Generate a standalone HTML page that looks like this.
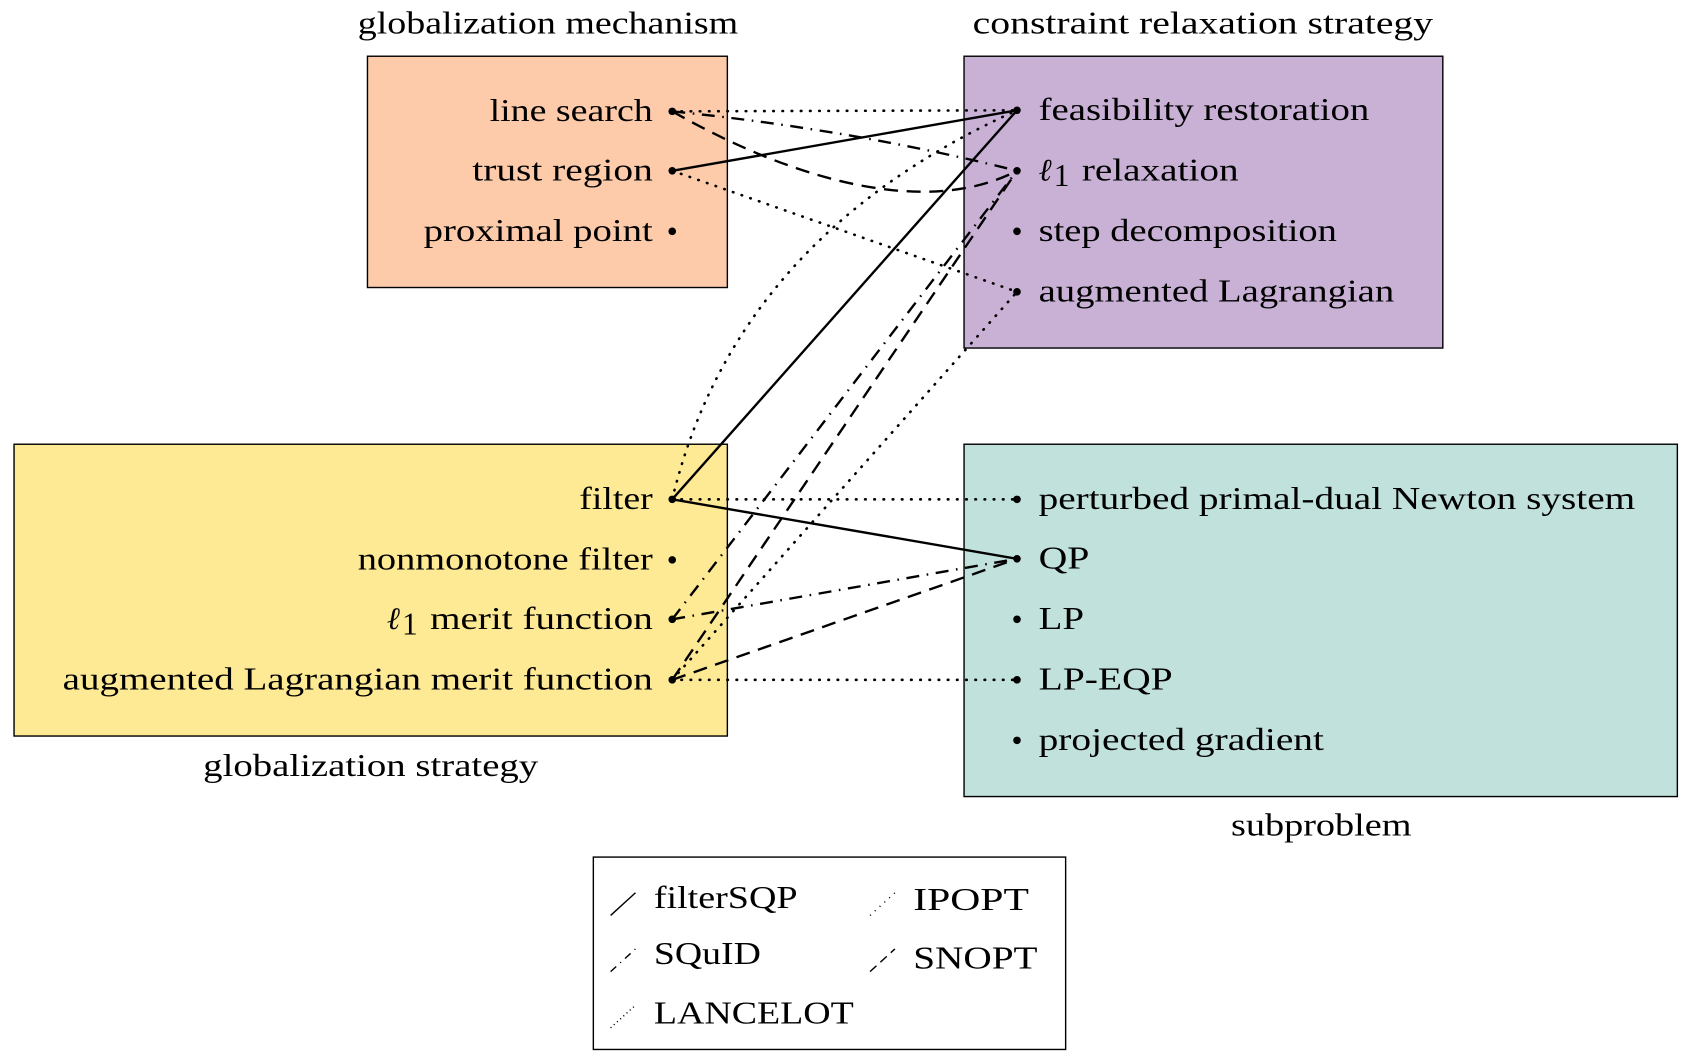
<!DOCTYPE html>
<html><head><meta charset="utf-8"><style>
html,body{margin:0;padding:0;background:#fff;}
svg{display:block;}
text{font-family:"Liberation Serif",serif;font-size:29px;fill:#000;}
</style></head><body>
<svg width="1686" height="1063" viewBox="0 0 1560 983.5" xmlns="http://www.w3.org/2000/svg">
<rect x="340" y="52" width="333" height="214" fill="#fdcbaa" stroke="#000" stroke-width="1.3"/>
<rect x="892" y="52" width="443" height="270" fill="#c9b1d6" stroke="#000" stroke-width="1.3"/>
<rect x="13" y="411" width="660" height="270" fill="#fee994" stroke="#000" stroke-width="1.3"/>
<rect x="892" y="411" width="660" height="326" fill="#c1e1dc" stroke="#000" stroke-width="1.3"/>
<rect x="549" y="793" width="437" height="178" fill="#fff" stroke="#000" stroke-width="1.3"/>

<g lengthAdjust="spacingAndGlyphs">
<text x="331" y="31" textLength="352" lengthAdjust="spacingAndGlyphs">globalization mechanism</text>
<text x="900" y="31" textLength="426" lengthAdjust="spacingAndGlyphs">constraint relaxation strategy</text>
<text x="188" y="718" textLength="310" lengthAdjust="spacingAndGlyphs">globalization strategy</text>
<text x="1139" y="773" textLength="167" lengthAdjust="spacingAndGlyphs">subproblem</text>

<text x="453" y="112" textLength="151" lengthAdjust="spacingAndGlyphs">line search</text>
<text x="437" y="167" textLength="167" lengthAdjust="spacingAndGlyphs">trust region</text>
<text x="392" y="223" textLength="212" lengthAdjust="spacingAndGlyphs">proximal point</text>
<text x="536" y="471" textLength="68" lengthAdjust="spacingAndGlyphs">filter</text>
<text x="331" y="527" textLength="273" lengthAdjust="spacingAndGlyphs">nonmonotone filter</text>
<text x="358" y="582" font-style="italic">ℓ</text><text x="372" y="587" font-size="19">1</text>
<text x="398" y="582" textLength="206" lengthAdjust="spacingAndGlyphs">merit function</text>
<text x="58" y="638" textLength="546" lengthAdjust="spacingAndGlyphs">augmented Lagrangian merit function</text>

<text x="961" y="111" textLength="306" lengthAdjust="spacingAndGlyphs">feasibility restoration</text>
<text x="961" y="167" font-style="italic">ℓ</text><text x="975" y="172" font-size="19">1</text>
<text x="1001" y="167" textLength="145" lengthAdjust="spacingAndGlyphs">relaxation</text>
<text x="961" y="223" textLength="276" lengthAdjust="spacingAndGlyphs">step decomposition</text>
<text x="961" y="279" textLength="329" lengthAdjust="spacingAndGlyphs">augmented Lagrangian</text>
<text x="961" y="471" textLength="552" lengthAdjust="spacingAndGlyphs">perturbed primal-dual Newton system</text>
<text x="961" y="526" textLength="47" lengthAdjust="spacingAndGlyphs">QP</text>
<text x="961" y="582" textLength="42" lengthAdjust="spacingAndGlyphs">LP</text>
<text x="961" y="638" textLength="124" lengthAdjust="spacingAndGlyphs">LP-EQP</text>
<text x="961" y="694" textLength="264" lengthAdjust="spacingAndGlyphs">projected gradient</text>
</g>

<g fill="none" stroke="#000" stroke-width="2.2">
<path d="M622 158 L941 102"/>
<path d="M622 462 L941 102"/>
<path d="M622 462 L941 517"/>
</g>
<g fill="none" stroke="#000" stroke-width="2.4" stroke-dasharray="0.5 8" stroke-linecap="round">
<path d="M622 103 L941 102"/>
<path d="M622 462 Q680 220 941 102"/>
<path d="M622 462 L941 462"/>
<path d="M622 158 L941 270"/>
<path d="M622 629 L941 270"/>
<path d="M622 629 L941 629"/>
</g>
<g fill="none" stroke="#000" stroke-width="2.2" stroke-dasharray="12 7 1.5 7">
<path d="M622 103 Q790 120 941 158"/>
<path d="M622 573 L941 158"/>
<path d="M622 573 L941 517"/>
</g>
<g fill="none" stroke="#000" stroke-width="2.2" stroke-dasharray="13 8">
<path d="M622 103 C740 170 860 200 941 158"/>
<path d="M622 629 L941 158"/>
<path d="M622 629 L941 517"/>
</g>

<g fill="#000">
<circle cx="622" cy="103" r="3.5"/><circle cx="622" cy="158" r="3.5"/><circle cx="622" cy="214" r="3.5"/>
<circle cx="622" cy="462" r="3.5"/><circle cx="622" cy="518" r="3.5"/><circle cx="622" cy="573" r="3.5"/><circle cx="622" cy="629" r="3.5"/>
<circle cx="941" cy="102" r="3.5"/><circle cx="941" cy="158" r="3.5"/><circle cx="941" cy="214" r="3.5"/><circle cx="941" cy="270" r="3.5"/>
<circle cx="941" cy="462" r="3.5"/><circle cx="941" cy="517" r="3.5"/><circle cx="941" cy="573" r="3.5"/><circle cx="941" cy="629" r="3.5"/><circle cx="941" cy="685" r="3.5"/>
</g>

<g fill="none" stroke="#000" stroke-width="1.3">
<path d="M565 847 L588 826"/>
<path d="M565 899 L588 878" stroke-dasharray="7 5 1 5"/>
<path d="M565 951 L588 930" stroke-dasharray="1 3"/>
<path d="M805 847 L828 826" stroke-dasharray="1 5"/>
<path d="M805 899 L828 878" stroke-dasharray="8 5"/>
</g>
<text x="605" y="840" textLength="133" lengthAdjust="spacingAndGlyphs">filterSQP</text>
<text x="605" y="892" textLength="99" lengthAdjust="spacingAndGlyphs">SQuID</text>
<text x="605" y="947" textLength="185" lengthAdjust="spacingAndGlyphs">LANCELOT</text>
<text x="845" y="842" textLength="107" lengthAdjust="spacingAndGlyphs">IPOPT</text>
<text x="845" y="896" textLength="115" lengthAdjust="spacingAndGlyphs">SNOPT</text>
</svg>
</body></html>
